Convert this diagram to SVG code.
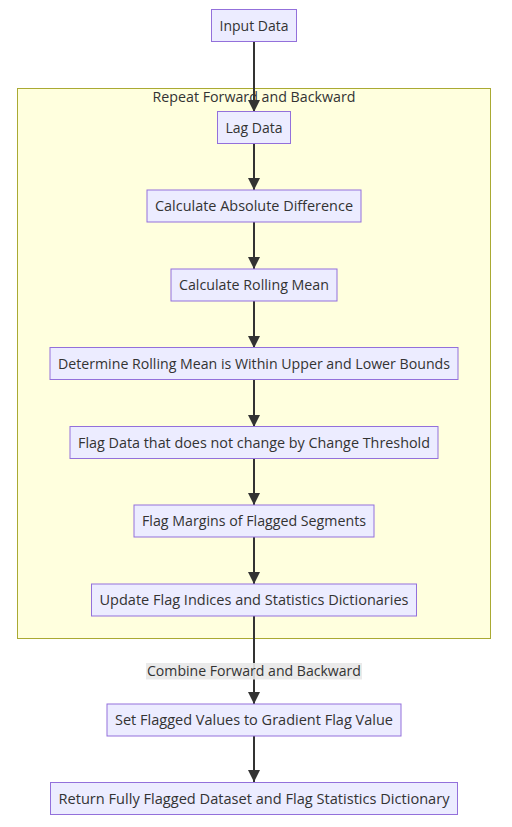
<svg xmlns="http://www.w3.org/2000/svg" width="512" height="827" viewBox="0 0 512 827">
<defs>
<style>
.node rect{fill:#ECECFF;stroke:#9370DB;stroke-width:1}
text{font-family:"Trebuchet MS","Open Sans","DejaVu Sans",sans-serif;font-size:14.5px;fill:#333;text-anchor:middle}
.edge{stroke:#333;stroke-width:2;fill:none}
.cluster rect{fill:#ffffde;stroke:#aaaa33;stroke-width:1}
</style>
<marker id="arrow" viewBox="0 0 10 10" refX="10" refY="5" markerUnits="userSpaceOnUse" markerWidth="12" markerHeight="12" orient="auto">
<path d="M0,0 L10,5 L0,10 z" fill="#333"/>
</marker>
</defs>
<rect width="512" height="827" fill="#ffffff"/>
<g id="cluster-repeat" class="cluster">
<rect x="17.5" y="88.5" width="473" height="550"/>
<text x="254" y="102" textLength="203" lengthAdjust="spacingAndGlyphs">Repeat Forward and Backward</text>
</g>
<g id="edges">
<line class="edge" x1="254" y1="41" x2="254" y2="112" marker-end="url(#arrow)"/>
<line class="edge" x1="254" y1="143" x2="254" y2="190" marker-end="url(#arrow)"/>
<line class="edge" x1="254" y1="222" x2="254" y2="269" marker-end="url(#arrow)"/>
<line class="edge" x1="254" y1="300" x2="254" y2="348" marker-end="url(#arrow)"/>
<line class="edge" x1="254" y1="380" x2="254" y2="427" marker-end="url(#arrow)"/>
<line class="edge" x1="254" y1="458" x2="254" y2="505" marker-end="url(#arrow)"/>
<line class="edge" x1="254" y1="537" x2="254" y2="584" marker-end="url(#arrow)"/>
<line class="edge" x1="254" y1="616" x2="254" y2="704" marker-end="url(#arrow)"/>
<line class="edge" x1="254" y1="736" x2="254" y2="782" marker-end="url(#arrow)"/>
<g id="edge-label">
<rect x="146" y="663" width="216" height="16.5" fill="#e8e8e8" opacity="0.9"/>
<text x="254" y="676" textLength="214" lengthAdjust="spacingAndGlyphs">Combine Forward and Backward</text>
</g>
</g>
<g id="n-input" class="node"><rect x="211.5" y="9.5" width="85" height="32"/><text x="254" y="30.5" textLength="69" lengthAdjust="spacingAndGlyphs">Input Data</text></g>
<g id="n-lag" class="node"><rect x="217.5" y="111.5" width="73" height="32"/><text x="254" y="132.5" textLength="57" lengthAdjust="spacingAndGlyphs">Lag Data</text></g>
<g id="n-absdiff" class="node"><rect x="147" y="190" width="214" height="32"/><text x="254" y="211" textLength="198" lengthAdjust="spacingAndGlyphs">Calculate Absolute Difference</text></g>
<g id="n-rollmean" class="node"><rect x="171" y="269" width="166" height="32"/><text x="254" y="290" textLength="150" lengthAdjust="spacingAndGlyphs">Calculate Rolling Mean</text></g>
<g id="n-bounds" class="node"><rect x="50" y="347.5" width="408" height="32"/><text x="254" y="368.5" textLength="392" lengthAdjust="spacingAndGlyphs">Determine Rolling Mean is Within Upper and Lower Bounds</text></g>
<g id="n-flagdata" class="node"><rect x="70" y="426.5" width="368" height="32"/><text x="254" y="447.5" textLength="352" lengthAdjust="spacingAndGlyphs">Flag Data that does not change by Change Threshold</text></g>
<g id="n-margins" class="node"><rect x="134" y="505" width="240" height="32"/><text x="254" y="526" textLength="224" lengthAdjust="spacingAndGlyphs">Flag Margins of Flagged Segments</text></g>
<g id="n-update" class="node"><rect x="91.5" y="584" width="325" height="32"/><text x="254" y="605" textLength="309" lengthAdjust="spacingAndGlyphs">Update Flag Indices and Statistics Dictionaries</text></g>
<g id="n-setflag" class="node"><rect x="107" y="704" width="294" height="32"/><text x="254" y="725" textLength="278" lengthAdjust="spacingAndGlyphs">Set Flagged Values to Gradient Flag Value</text></g>
<g id="n-return" class="node"><rect x="50.5" y="782.5" width="407" height="32"/><text x="254" y="803.5" textLength="391" lengthAdjust="spacingAndGlyphs">Return Fully Flagged Dataset and Flag Statistics Dictionary</text></g>
</svg>
